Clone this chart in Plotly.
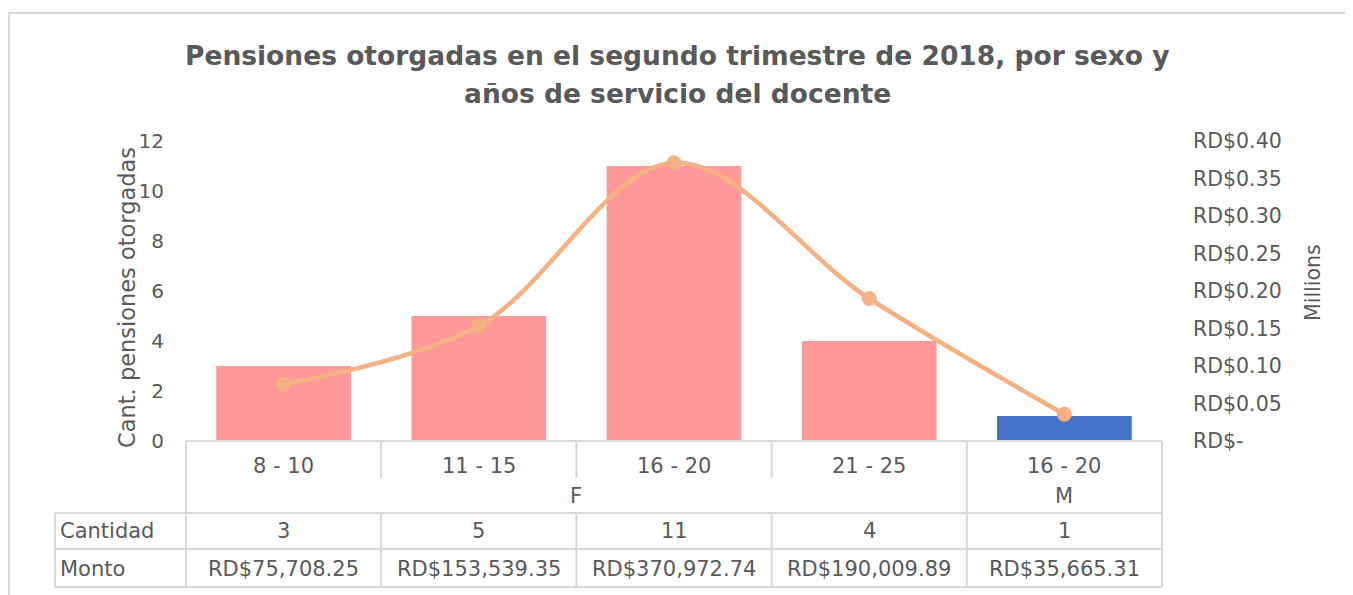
import plotly.graph_objects as go

# datos del gráfico
sexo = ["F", "F", "F", "F", "M"]
anios_servicio = ["8 - 10", "11 - 15", "16 - 20", "21 - 25", "16 - 20"]
cantidad = [3, 5, 11, 4, 1]
monto = [75708.25, 153539.35, 370972.74, 190009.89, 35665.31]

left_ticks = [0, 2, 4, 6, 8, 10, 12]
right_tickvals = [0, 50000, 100000, 150000, 200000, 250000, 300000, 350000, 400000]
right_ticktext = ["RD$-", "RD$0.05", "RD$0.10", "RD$0.15", "RD$0.20",
                  "RD$0.25", "RD$0.30", "RD$0.35", "RD$0.40"]
titulo = ["Pensiones otorgadas en el segundo trimestre de 2018, por sexo y",
          "años de servicio del docente"]

FONT = "DejaVu Sans"
GRAY = "#595959"
GRID = "#D9D9D9"
colores_sexo = {"F": "#FF9999", "M": "#4472C4"}

x_idx = list(range(len(cantidad)))

fig = go.Figure()
fig.add_trace(go.Bar(
    x=x_idx, y=cantidad, width=0.69,
    marker_color=[colores_sexo[s] for s in sexo],
    marker_line_width=0, name="Cantidad",
))
fig.add_trace(go.Scatter(
    x=x_idx, y=monto, yaxis="y2", mode="lines+markers",
    line=dict(color="#F4B183", width=4.5, shape="spline", smoothing=1),
    marker=dict(color="#F4B183", size=15), name="Monto",
))

# la página pone la figura a 8 px del borde
OFF = 8
W, H = 1353 - OFF, 595 - OFF
ml, mt = 186 - OFF, 141 - OFF
mr = W - (1162 - OFF)
mb = H - (441 - OFF)
pw, ph = W - ml - mr, H - mt - mb


def px(xp):
    return (xp - OFF - ml) / pw


def py(yp):
    return (H + OFF - mb - yp) / ph


n = len(cantidad)
col = [i / n for i in range(n + 1)]
line = dict(color=GRID, width=2)
shapes = []
# borde del área del gráfico
shapes.append(dict(type="rect", xref="paper", yref="paper", x0=px(9), x1=px(1370),
                   y0=py(620), y1=py(13), line=dict(color="#D9D9D9", width=2)))
# tabla de datos
y_top, y_cat, y_sexo, y_cant, y_monto = 0, py(478), py(513), py(549), py(587)
shapes.append(dict(type="line", xref="paper", yref="paper", x0=0, x1=1, y0=y_top, y1=y_top, line=line))
for yy in (y_sexo, y_cant, y_monto):
    shapes.append(dict(type="line", xref="paper", yref="paper", x0=px(55), x1=1, y0=yy, y1=yy, line=line))
shapes.append(dict(type="line", xref="paper", yref="paper", x0=px(55), x1=px(55), y0=y_sexo, y1=y_monto, line=line))
for i, c in enumerate(col):
    full = i == 0 or i == n or sexo[i - 1] != sexo[i]
    if full:
        shapes.append(dict(type="line", xref="paper", yref="paper", x0=c, x1=c, y0=y_top, y1=y_monto, line=line))
    else:
        shapes.append(dict(type="line", xref="paper", yref="paper", x0=c, x1=c, y0=y_top, y1=y_cat, line=line))
        shapes.append(dict(type="line", xref="paper", yref="paper", x0=c, x1=c, y0=y_sexo, y1=y_monto, line=line))

tfont = dict(family=FONT, size=21, color=GRAY)
annotations = []
# título en dos líneas
for texto, yline in zip(titulo, (55, 93)):
    annotations.append(dict(x=0.5, y=yline, xref="paper", yref="paper", text=f"<b>{texto}</b>",
                            showarrow=False, xanchor="center", yanchor="middle",
                            font=dict(family=FONT, size=26.5, color=GRAY)))
for a in annotations:
    a["x"] = px(677)
    a["y"] = py(a["y"])
for i in x_idx:
    annotations.append(dict(x=i, y=py(466), xref="x", yref="paper", text=anios_servicio[i],
                            showarrow=False, font=tfont, yanchor="middle"))
    annotations.append(dict(x=i, y=py(531), xref="x", yref="paper", text=str(cantidad[i]),
                            showarrow=False, font=tfont, yanchor="middle"))
    annotations.append(dict(x=i, y=py(569), xref="x", yref="paper", text=f"RD${monto[i]:,.2f}",
                            showarrow=False, font=tfont, yanchor="middle"))
for s in dict.fromkeys(sexo):
    idx = [i for i in x_idx if sexo[i] == s]
    annotations.append(dict(x=(min(idx) + max(idx)) / 2, y=py(496), xref="x", yref="paper", text=s,
                            showarrow=False, font=tfont, yanchor="middle"))
annotations.append(dict(x=px(58), y=py(531), xref="paper", yref="paper", text="Cantidad",
                        xanchor="left", yanchor="middle", showarrow=False, font=tfont))
annotations.append(dict(x=px(58), y=py(569), xref="paper", yref="paper", text="Monto",
                        xanchor="left", yanchor="middle", showarrow=False, font=tfont))
annotations.append(dict(x=px(127), y=py(298), xref="paper", yref="paper", text="Cant. pensiones otorgadas",
                        textangle=-90, xanchor="center", yanchor="middle", showarrow=False,
                        font=dict(family=FONT, size=22.5, color=GRAY)))
annotations.append(dict(x=px(1313), y=py(283), xref="paper", yref="paper", text="Millions",
                        textangle=-90, xanchor="center", yanchor="middle", showarrow=False,
                        font=dict(family=FONT, size=20.5, color=GRAY)))

fig.update_layout(
    width=W, height=H,
    margin=dict(l=ml, r=mr, t=mt, b=mb),
    paper_bgcolor="white", plot_bgcolor="white",
    showlegend=False,
    font=dict(family=FONT, color=GRAY),
    xaxis=dict(range=[-0.5, n - 0.5], showticklabels=False, showgrid=False, zeroline=False,
               showline=False, ticks=""),
    yaxis=dict(range=[0, 12], tickvals=left_ticks, showgrid=False, zeroline=False, showline=False,
               tickfont=dict(family=FONT, size=20, color=GRAY), ticklabelstandoff=21),
    yaxis2=dict(range=[0, 400000], overlaying="y", side="right", tickvals=right_tickvals,
                ticktext=right_ticktext, showgrid=False, zeroline=False, showline=False,
                tickfont=dict(family=FONT, size=20.5, color=GRAY), ticklabelstandoff=30),
    shapes=shapes,
    annotations=annotations,
)

fig.write_html("out.html")
